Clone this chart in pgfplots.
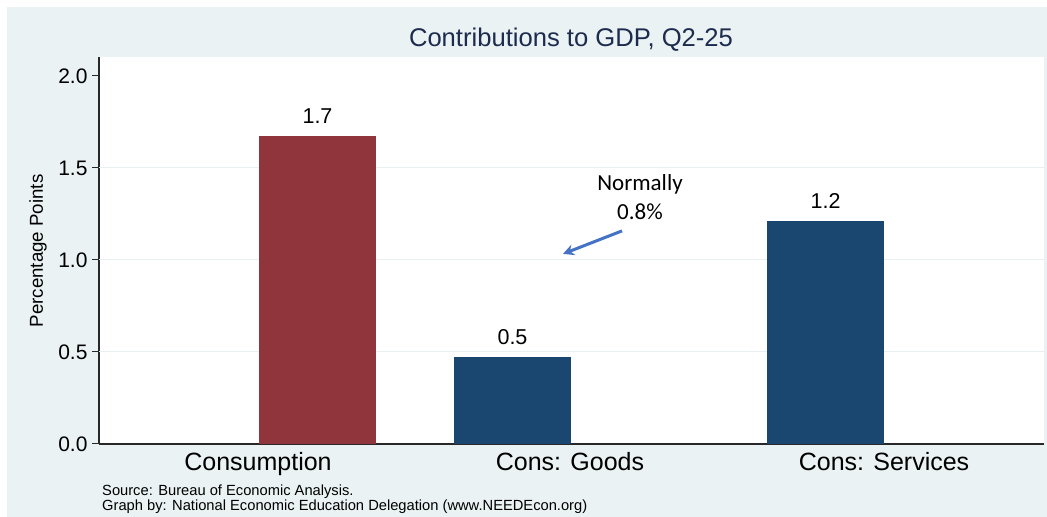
\documentclass[border=0pt]{standalone}
\usepackage{pgfplots}
\pgfplotsset{compat=1.18}
\usepackage{fontspec}
\setmainfont{Liberation Sans}
\newfontfamily\carlito{Carlito}
\usetikzlibrary{arrows.meta}
\definecolor{bgc}{RGB}{234,242,243}
\definecolor{gridc}{RGB}{232,240,242}
\definecolor{maroonbar}{RGB}{144,53,59}
\definecolor{navybar}{RGB}{26,71,111}
\definecolor{titlec}{RGB}{28,43,78}
\definecolor{arrowc}{RGB}{68,114,196}
\definecolor{axisc}{RGB}{40,40,40}
\begin{document}
\begin{tikzpicture}[x=1bp,y=1bp]
\useasboundingbox (0,0) rectangle (1047,517);
\fill[white] (0,0) rectangle (1047,517);
\fill[bgc] (7,0) rectangle (1047,510);
\begin{axis}[
  at={(99bp,73bp)}, anchor=south west,
  scale only axis, width=945bp, height=387bp,
  xmin=99, xmax=1044, ymin=0, ymax=2.103,
  axis background/.style={fill=white},
  axis x line*=bottom, axis y line*=left,
  axis line style={axisc, line width=1.1bp},
  xtick={258,570,884},
  xticklabels={Consumption, Cons: Goods, Cons: Services},
  x tick style={draw=none},
  xticklabel style={font=\fontsize{25bp}{28bp}\selectfont, anchor=base, yshift=-20bp},
  ytick={0,0.5,1,1.5,2},
  yticklabels={0.0,0.5,1.0,1.5,2.0},
  yticklabel style={font=\fontsize{21bp}{24bp}\selectfont, xshift=-1bp},
  y tick style={axisc, line width=1bp},
  tick align=outside, major tick length=7bp,
  /pgf/number format/assume math mode=true,
  point meta=explicit symbolic,
  nodes near coords,
  every node near coord/.append style={font=\fontsize{21.5bp}{24bp}\selectfont, anchor=base, inner sep=0pt, yshift=12bp, text=black},
  clip=false,
]
\draw[gridc, line width=1bp] (axis cs:99,0.5) -- (axis cs:1044,0.5);
\draw[gridc, line width=1bp] (axis cs:99,1.0) -- (axis cs:1044,1.0);
\draw[gridc, line width=1bp] (axis cs:99,1.5) -- (axis cs:1044,1.5);
\addplot[ybar, bar width=117, bar shift=0pt, fill=maroonbar, draw=none] coordinates {(317.5,1.675) [1.7]};
\addplot[ybar, bar width=117, bar shift=0pt, fill=navybar, draw=none] coordinates {(512.5,0.473) [0.5]};
\addplot[ybar, bar width=117, bar shift=0pt, fill=navybar, draw=none] coordinates {(825.5,1.212) [1.2]};
\node[anchor=base, font=\carlito\fontsize{23bp}{28bp}\selectfont] at (axis cs:640,1.378) {Normally};
\node[anchor=base, font=\carlito\fontsize{23bp}{28bp}\selectfont] at (axis cs:640,1.220) {0.8\%};
\draw[arrowc, line width=3bp, -{Stealth[length=11bp,width=11bp]}] (axis cs:622,1.158) -- (axis cs:563,1.033);
\end{axis}
\node[anchor=base, text=titlec, font=\fontsize{25.6bp}{30bp}\selectfont, inner sep=0pt] at (571,470) {Contributions to GDP, Q2-25};
\node[rotate=90, font=\fontsize{18.7bp}{22bp}\selectfont, inner sep=0pt] at (38,266) {Percentage Points};
\node[anchor=base west, font=\fontsize{14.7bp}{16bp}\selectfont, inner sep=0pt] at (102,21) {Source: Bureau of Economic Analysis.};
\node[anchor=base west, font=\fontsize{14.7bp}{16bp}\selectfont, inner sep=0pt] at (102,6) {Graph by: National Economic Education Delegation (www.NEEDEcon.org)};
\end{tikzpicture}
\end{document}
